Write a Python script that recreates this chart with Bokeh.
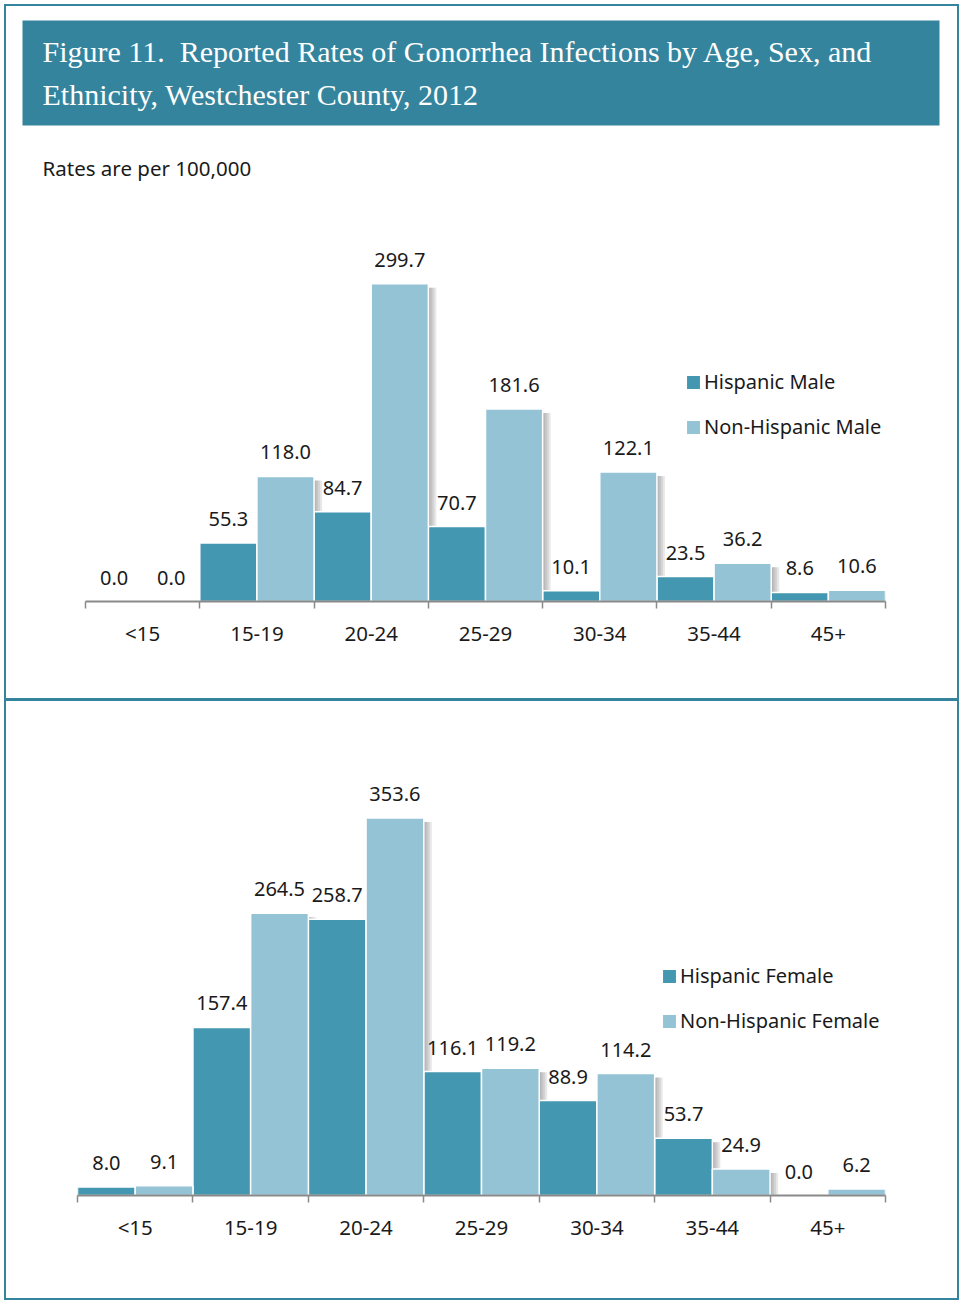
import numpy as np
from bokeh.plotting import figure
from bokeh.models import (ColumnDataSource, Range1d, LinearAxis, FixedTicker,
                          Legend, LegendItem, Spacer)
from bokeh.layouts import column, row
from bokeh.transform import dodge
from bokeh.core.properties import value
from bokeh.embed import file_html
from bokeh.resources import INLINE

# ---- data (rates per 100,000) ----
ages = ["<15", "15-19", "20-24", "25-29", "30-34", "35-44", "45+"]
hispanic_male = [0.0, 55.3, 84.7, 70.7, 10.1, 23.5, 8.6]
non_hispanic_male = [0.0, 118.0, 299.7, 181.6, 122.1, 36.2, 10.6]
hispanic_female = [8.0, 157.4, 258.7, 116.1, 88.9, 53.7, 0.0]
non_hispanic_female = [9.1, 264.5, 353.6, 119.2, 114.2, 24.9, 6.2]

# a no-break space keeps the double gap after the figure number
title_lines = ["Figure 11.\u00a0 Reported Rates of Gonorrhea Infections by Age, Sex, and",
               "Ethnicity, Westchester County, 2012"]
subtitle = "Rates are per 100,000"

TEAL = "#35849d"
DARK = "#4397b0"
LIGHT = "#94c3d5"
INK = "#1a1a1a"
AXIS = "#8a8a8a"
FONT = "Noto Sans"
W = 951


def header():
    h = figure(width=W, height=194, x_range=Range1d(6, 957), y_range=Range1d(200, 6),
               x_axis_location=None, y_axis_location=None, min_border=0, frame_align=False,
               toolbar_location=None, output_backend="svg", outline_line_color=None)
    h.grid.visible = False
    h.quad(left=[22], right=[939], top=[20], bottom=[125], fill_color=TEAL, line_color=None)
    h.text(x=[42, 42], y=[51, 94], text=title_lines, text_font=value("Liberation Serif"),
           text_font_size="30px", text_color="white", text_baseline="alphabetic")
    h.text(x=[42], y=[167], text=[subtitle], text_font=value(FONT),
           text_font_size="20.5px", text_color=INK, text_baseline="alphabetic")
    return h


def bar_panel(height, left, right, top, bottom, y_max, hisp, nonhisp, names, legend_x):
    n = len(ages)
    p = figure(width=W, height=height, x_range=Range1d(0, n), y_range=Range1d(0, y_max),
               x_axis_location=None, y_axis_location=None, frame_align=False,
               toolbar_location=None, output_backend="svg", outline_line_color=None,
               min_border_left=left, min_border_right=right,
               min_border_top=top, min_border_bottom=bottom)
    p.grid.visible = False

    frame_w = W - left - right
    frame_h = height - top - bottom
    px_cat = frame_w / n          # pixels per age group
    px_val = frame_h / y_max      # pixels per rate unit

    hisp = np.array(hisp)
    nonhisp = np.array(nonhisp)
    centres = np.arange(n) + 0.5   # each age group occupies one unit on x
    src = ColumnDataSource(dict(
        pos=centres, hisp=hisp, nonhisp=nonhisp,
        hisp_txt=[f"{v:.1f}" for v in hisp],
        nonhisp_txt=[f"{v:.1f}" for v in nonhisp],
        hisp_sh=np.maximum(hisp - 4 / px_val, 0),
        nonhisp_sh=np.maximum(nonhisp - 4 / px_val, 0),
    ))

    # soft drop shadow to the right of each bar
    for off in (2, 4, 6, 8):
        for shift, col in ((-0.25, "hisp_sh"), (0.25, "nonhisp_sh")):
            p.vbar(x=dodge("pos", shift + off / px_cat), top=col, width=0.5,
                   source=src, fill_color="#6e6e6e", fill_alpha=0.16, line_color=None)

    r1 = p.vbar(x=dodge("pos", -0.25), top="hisp", width=0.5, source=src,
                fill_color=DARK, line_color="white", line_width=1.5)
    r2 = p.vbar(x=dodge("pos", 0.25), top="nonhisp", width=0.5, source=src,
                fill_color=LIGHT, line_color="white", line_width=1.5)

    for shift, ycol, tcol in ((-0.25, "hisp", "hisp_txt"), (0.25, "nonhisp", "nonhisp_txt")):
        p.text(x=dodge("pos", shift), y=ycol, text=tcol, source=src,
               text_font=value(FONT), text_font_size="20px", text_color=INK,
               text_align="center", text_baseline="middle", y_offset=-24)

    legend = Legend(items=[LegendItem(label=names[0], renderers=[r1]),
                           LegendItem(label=names[1], renderers=[r2])],
                    location=(legend_x, 161), padding=0, margin=0, spacing=18,
                    glyph_width=18, glyph_height=18, label_height=26, label_standoff=2,
                    label_text_font=FONT, label_text_font_size="20px", label_text_color=INK,
                    background_fill_alpha=0, border_line_color=None)
    p.add_layout(legend)

    # age axis: labels at group centres, tick marks at group edges
    ax = LinearAxis(ticker=FixedTicker(ticks=list(centres), minor_ticks=list(range(n + 1))),
                    major_label_overrides={float(c): a for c, a in zip(centres, ages)},
                    axis_line_color=AXIS, axis_line_width=2,
                    major_tick_line_color=None, major_tick_in=0, major_tick_out=0,
                    minor_tick_line_color=AXIS, minor_tick_line_width=1.5,
                    minor_tick_in=0, minor_tick_out=7,
                    major_label_standoff=10, major_label_text_font=FONT,
                    major_label_text_font_size="20.5px", major_label_text_color=INK)
    p.add_layout(ax, "below")
    return p


male = bar_panel(498, 79, 72, 30, 97, 350, hispanic_male, non_hispanic_male,
                 ["Hispanic Male", "Non-Hispanic Male"], 599)
female = bar_panel(597, 71, 72, 67, 103, 400, hispanic_female, non_hispanic_female,
                   ["Hispanic Female", "Non-Hispanic Female"], 583)


def rule(w, h):
    return Spacer(width=w, height=h, styles={"background-color": TEAL})


inner = column(rule(W, 2), header(), male, rule(W, 3), female, rule(W, 2))
page = column(Spacer(width=961, height=4),
              row(Spacer(width=4, height=1296), rule(2, 1296), inner, rule(2, 1296)))

open("out.html", "w").write(file_html(page, INLINE, title="Gonorrhea rates by age, sex and ethnicity"))
